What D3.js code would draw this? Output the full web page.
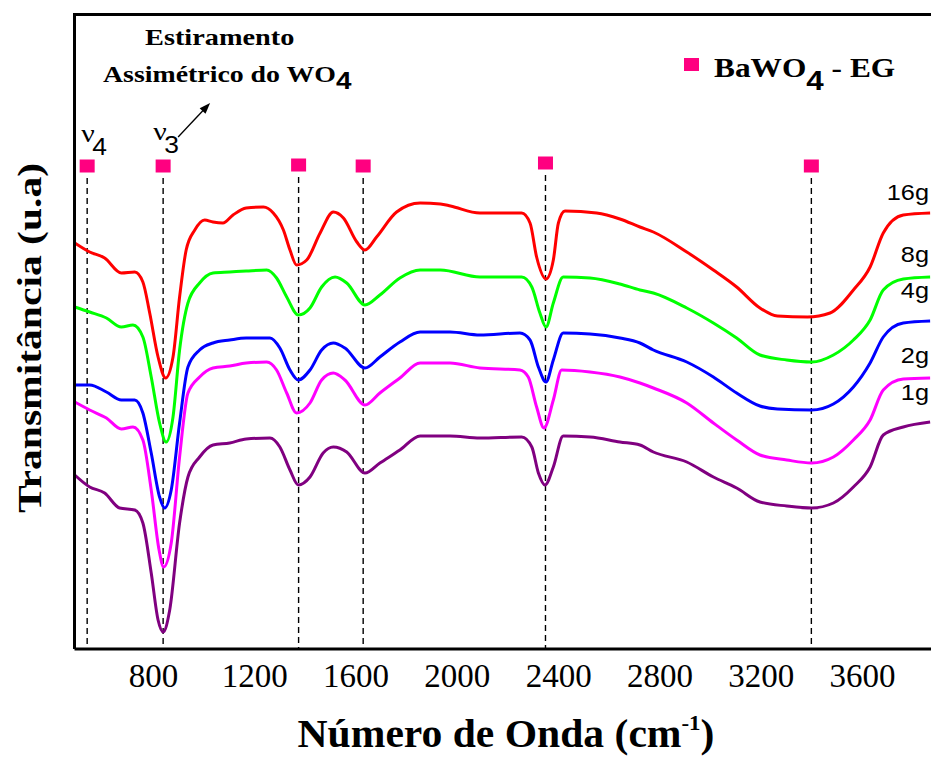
<!DOCTYPE html>
<html>
<head>
<meta charset="utf-8">
<script src="https://cdn.jsdelivr.net/npm/d3@7"></script>
<style>
  html, body { margin: 0; padding: 0; background: #fff; }
  svg { display: block; }
</style>
</head>
<body>
<svg id="chart" width="931" height="758"></svg>
<script>
// FTIR spectra of BaWO4 prepared with ethylene glycol (EG), one curve per mass
const tickValues = [800, 1200, 1600, 2000, 2400, 2800, 3200, 3600];
const sampleLabels = ["16g", "8g", "4g", "2g", "1g"];
const sampleColors = ["#ff0000", "#00ff00", "#0000ff", "#ff00ff", "#800080"];

// [wavenumber (cm-1), transmittance (a.u., offset per sample)]
const t16g = [[491,407],[550,398],[609,392],[675,377],[728,378],[760,368],[787,337],[820,293],[850,272],[879,293],[905,353],[931,400],[965,420],[1004,430],[1037,428],[1076,427],[1116,435],[1168,442],[1236,443],[1275,437],[1315,420],[1341,400],[1367,385],[1407,390],[1460,417],[1512,438],[1552,432],[1605,408],[1637,400],[1683,413],[1762,438],[1855,447],[1935,446],[1975,444],[2091,437],[2256,437],[2289,427],[2315,393],[2352,371],[2381,390],[2401,427],[2427,439],[2552,437],[2644,431],[2723,423],[2776,418],[2908,398],[3013,380],[3105,363],[3197,342],[3266,334],[3385,333],[3474,337],[3566,360],[3632,383],[3684,417],[3763,435],[3869,437]];
const t8g = [[491,343],[550,338],[616,332],[675,323],[721,325],[760,313],[793,273],[826,227],[852,208],[879,233],[905,300],[938,347],[984,367],[1037,377],[1103,378],[1168,379],[1249,380],[1288,372],[1328,353],[1374,335],[1420,342],[1466,363],[1519,373],[1565,367],[1637,345],[1696,355],[1775,372],[1855,380],[1935,380],[2091,373],[2256,373],[2296,363],[2328,337],[2352,323],[2381,347],[2420,373],[2526,372],[2644,366],[2723,360],[2776,357],[2908,342],[3013,327],[3105,312],[3197,295],[3303,290],[3401,288],[3487,295],[3566,310],[3632,330],[3684,360],[3763,371],[3869,373]];
const t4g = [[491,265],[550,265],[616,258],[675,250],[728,250],[760,237],[793,197],[826,153],[846,142],[872,160],[905,227],[938,283],[984,300],[1037,307],[1103,310],[1168,312],[1262,312],[1301,302],[1341,280],[1374,270],[1420,280],[1466,300],[1512,307],[1558,302],[1637,282],[1696,293],[1775,308],[1855,318],[1973,318],[2091,315],[2249,317],[2289,310],[2322,283],[2352,268],[2381,290],[2420,317],[2526,316],[2644,312],[2723,307],[2776,300],[2908,288],[3013,273],[3105,257],[3197,244],[3266,241],[3401,240],[3487,246],[3566,263],[3632,287],[3684,313],[3763,327],[3869,329]];
const t2g = [[491,248],[550,240],[616,232],[675,221],[721,223],[760,210],[793,160],[824,100],[842,83],[872,107],[905,193],[938,257],[984,273],[1037,282],[1103,284],[1168,287],[1249,288],[1288,280],[1328,257],[1367,237],[1420,247],[1466,270],[1512,277],[1558,270],[1637,245],[1696,257],[1775,272],[1855,287],[1973,287],[2091,282],[2249,280],[2282,273],[2315,243],[2344,222],[2381,250],[2414,280],[2526,278],[2644,273],[2723,267],[2776,262],[2908,247],[3013,227],[3105,210],[3197,195],[3303,190],[3401,187],[3487,193],[3566,210],[3632,230],[3684,260],[3763,271],[3869,272]];
const t1g = [[491,175],[550,163],[609,157],[668,142],[728,140],[760,127],[793,77],[820,30],[840,18],[866,40],[905,127],[938,173],[984,193],[1037,205],[1103,207],[1168,211],[1262,212],[1301,203],[1341,180],[1374,165],[1420,173],[1472,197],[1512,203],[1565,198],[1637,177],[1696,187],[1775,200],[1855,214],[1973,214],[2091,212],[2256,213],[2296,203],[2322,177],[2348,165],[2381,183],[2420,214],[2526,213],[2644,208],[2723,205],[2776,198],[2908,188],[3013,173],[3105,162],[3197,148],[3303,144],[3401,142],[3487,147],[3566,163],[3632,183],[3684,215],[3763,223],[3869,228]];
const spectra = [t16g, t8g, t4g, t2g, t1g];
const labelLevels = [450, 388, 352, 287, 250];

// BaWO4 band positions marked with squares and dashed guides
const bandCenters = [540, 840, 1375, 1630, 2350, 3400];
const bandLevels = [484, 484, 485, 484, 487, 484];

const W = 931, H = 758;
const plotLeft = 74, plotTop = 14, plotBottom = 650, plotRight = 931;
const serif = "'Liberation Serif', 'Times New Roman', serif";
const sans = "'Liberation Sans', Arial, sans-serif";
const bandColor = "#ff0080";

const svg = d3.select("#chart");
const x = d3.scaleLinear().domain([800, 3600]).range([153, 862]);
const y = d3.scaleLinear().domain([0, 636]).range([plotBottom, plotTop]);

svg.append("defs").append("clipPath").attr("id", "plot-clip")
  .append("rect").attr("x", plotLeft).attr("y", plotTop)
  .attr("width", plotRight - plotLeft).attr("height", plotBottom - plotTop);

// dashed band guides
const bands = svg.append("g");
bandCenters.forEach((c, i) => {
  const cx = x(c), cy = y(bandLevels[i]);
  bands.append("line")
    .attr("x1", cx).attr("x2", cx).attr("y1", cy + 12).attr("y2", plotBottom - 2)
    .attr("stroke", "#000").attr("stroke-width", 1.4).attr("stroke-dasharray", "6,4");
  bands.append("rect")
    .attr("x", cx - 7.5).attr("y", cy - 6.5).attr("width", 15).attr("height", 13)
    .attr("fill", bandColor);
});

// spectra
const line = d3.line().x(d => x(d[0])).y(d => y(d[1])).curve(d3.curveMonotoneX);
svg.append("g").attr("clip-path", "url(#plot-clip)")
  .selectAll("path").data(spectra).join("path")
  .attr("d", line)
  .attr("fill", "none")
  .attr("stroke", (d, i) => sampleColors[i])
  .attr("stroke-width", 3)
  .attr("stroke-linejoin", "round");

// sample labels at the right edge
sampleLabels.forEach((lab, i) => {
  svg.append("g").attr("transform", `translate(929,${y(labelLevels[i])}) scale(1.15,1)`)
    .append("text").attr("text-anchor", "end")
    .attr("font-family", sans).attr("font-size", 22).attr("fill", "#000")
    .text(lab);
});

// frame
svg.append("path")
  .attr("d", `M${plotLeft + 0.5},${plotBottom - 1}V${plotTop + 0.5}H${plotRight + 2}M${plotLeft + 0.5},${plotBottom - 1}H${plotRight + 2}`)
  .attr("fill", "none").attr("stroke", "#000").attr("stroke-width", 3);

// x axis tick labels
const axis = svg.append("g").attr("transform", `translate(0,${plotBottom})`)
  .call(d3.axisBottom(x).tickValues(tickValues).tickSize(0).tickFormat(d3.format("d")));
axis.select(".domain").remove();
axis.selectAll("text")
  .attr("y", 37).attr("dy", 0)
  .attr("font-family", serif).attr("font-size", 33).attr("fill", "#000");

// axis titles
const xt = svg.append("g").attr("transform", "translate(506,747) scale(1.04,1)")
  .append("text").attr("text-anchor", "middle")
  .attr("font-family", serif).attr("font-weight", "bold").attr("font-size", 40).attr("fill", "#000");
xt.append("tspan").text("Número de Onda (cm");
xt.append("tspan").attr("font-size", 22).attr("dy", -17).text("-1");
xt.append("tspan").attr("dy", 17).text(")");

svg.append("text")
  .attr("transform", "translate(41,338) rotate(-90)")
  .attr("text-anchor", "middle")
  .attr("font-family", serif).attr("font-weight", "bold").attr("font-size", 34).attr("fill", "#000")
  .attr("textLength", 350).attr("lengthAdjust", "spacingAndGlyphs")
  .text("Transmitância (u.a)");

// annotation for the asymmetric stretching band
svg.append("g").attr("transform", "translate(145,45) scale(1.18,1)")
  .append("text").attr("font-family", serif).attr("font-weight", "bold").attr("font-size", 24).attr("fill", "#000")
  .text("Estiramento");
const a2 = svg.append("g").attr("transform", "translate(103,82) scale(1.16,1)")
  .append("text").attr("font-family", serif).attr("font-weight", "bold").attr("font-size", 24).attr("fill", "#000");
a2.append("tspan").text("Assimétrico do WO");
a2.append("tspan").attr("font-family", sans).attr("dy", 7).text("4");

// arrow from ν3 towards the annotation
const ax0 = x(840) + 15, ay0 = 137, ax1 = x(840) + 47, ay1 = 103;
svg.append("line").attr("x1", ax0).attr("y1", ay0).attr("x2", ax1 - 5).attr("y2", ay1 + 5.3)
  .attr("stroke", "#000").attr("stroke-width", 1.3);
{
  const ang = Math.atan2(ay1 - ay0, ax1 - ax0);
  const L = 11, Wd = 4;
  const bx = ax1 - L * Math.cos(ang), by = ay1 - L * Math.sin(ang);
  const px = -Math.sin(ang) * Wd, py = Math.cos(ang) * Wd;
  svg.append("path")
    .attr("d", `M${ax1},${ay1}L${bx + px},${by + py}L${bx - px},${by - py}Z`)
    .attr("fill", "#000");
}

// ν4 and ν3 labels
function nuLabel(cx, base, sub) {
  svg.append("g").attr("transform", `translate(${cx},${base}) scale(1.15,1)`)
    .append("text").attr("font-family", serif).attr("font-size", 26).attr("fill", "#000").text("ν");
  svg.append("g").attr("transform", `translate(${cx + 11},${base + 13}) scale(1.1,1)`)
    .append("text").attr("font-family", sans).attr("font-size", 24).attr("fill", "#000").text(sub);
}
nuLabel(x(540) - 6, 142, "4");
nuLabel(x(840) - 10, 140, "3");

// legend
svg.append("rect").attr("x", 684).attr("y", 58).attr("width", 15).attr("height", 13).attr("fill", bandColor);
const lg = svg.append("g").attr("transform", "translate(714,77) scale(1.12,1)")
  .append("text").attr("font-family", serif).attr("font-weight", "bold").attr("font-size", 28).attr("fill", "#000");
lg.append("tspan").text("BaWO");
lg.append("tspan").attr("font-family", sans).attr("dy", 13).text("4");
lg.append("tspan").attr("dy", -13).text(" - EG");
</script>
</body>
</html>
